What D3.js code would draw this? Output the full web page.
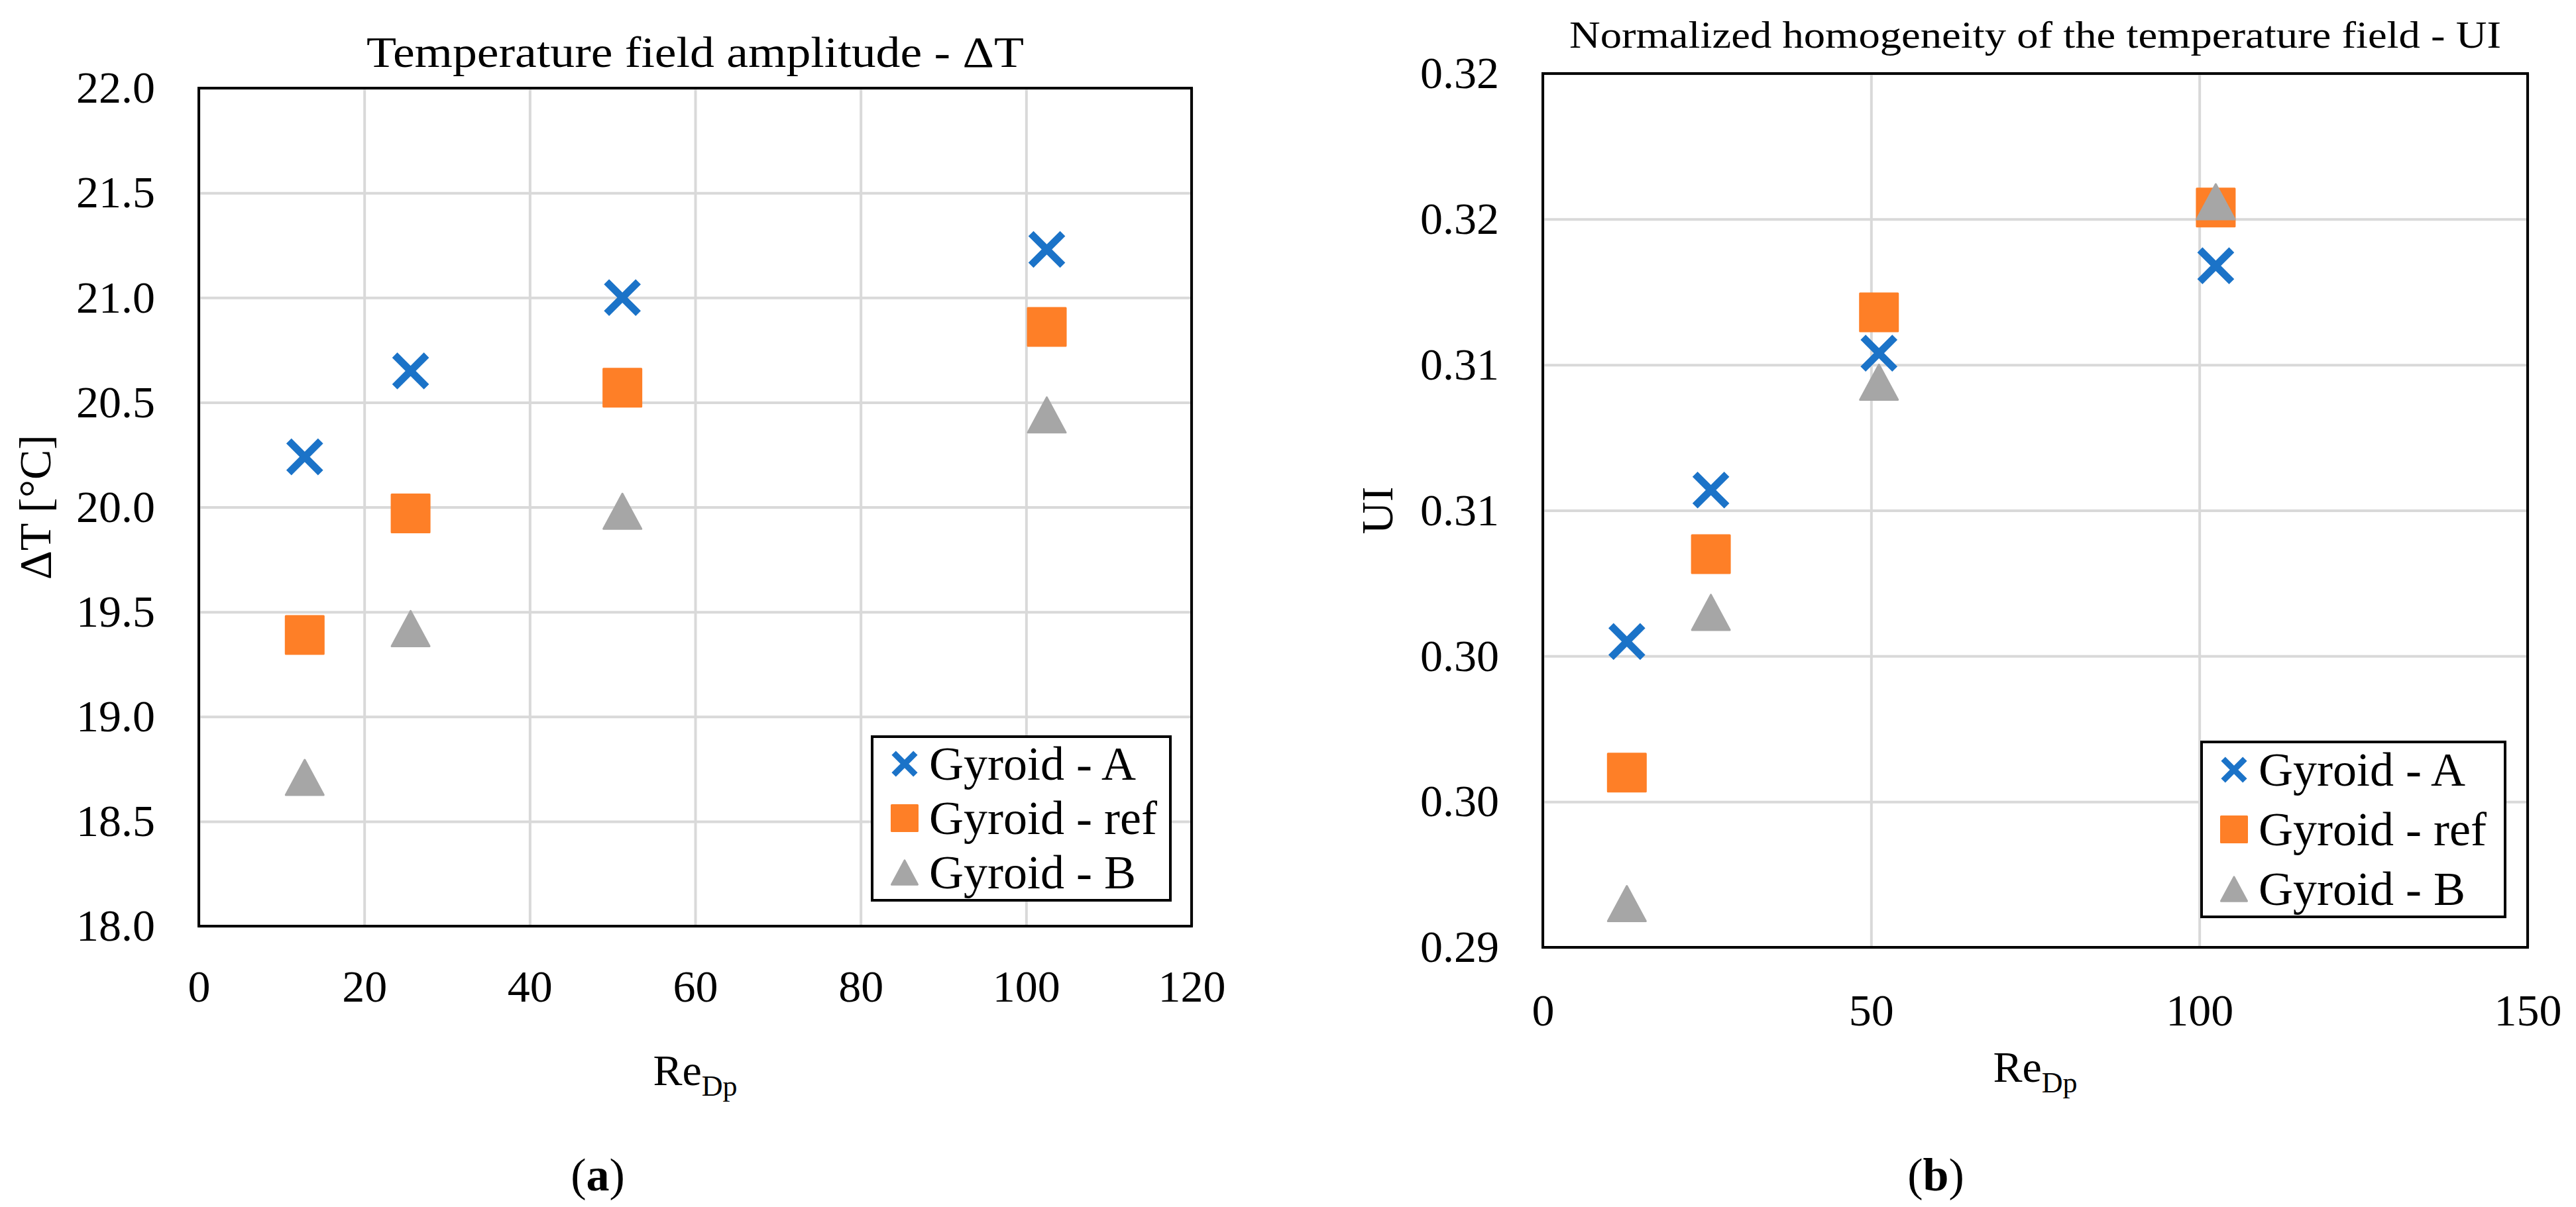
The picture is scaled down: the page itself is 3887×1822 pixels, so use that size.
<!DOCTYPE html>
<html>
<head>
<meta charset="utf-8">
<script src="https://cdn.jsdelivr.net/npm/d3@7"></script>
<style>
  html, body { margin: 0; padding: 0; background: #ffffff; }
  svg { display: block; }
</style>
</head>
<body>
<svg id="chart" width="3887" height="1822"></svg>
<script>
// ---------------- DATA ----------------
const reDp = [12.8, 25.6, 51.2, 102.5];

const seriesNames = ["Gyroid - A", "Gyroid - ref", "Gyroid - B"];

// panel (a): temperature field amplitude ΔT [°C]
const dT_A   = [20.24, 20.65, 21.00, 21.23];
const dT_ref = [19.39, 19.97, 20.57, 20.86];
const dT_B   = [18.71, 19.42, 19.98, 20.44];

// panel (b): normalized homogeneity UI
const UI_A   = [0.3005, 0.3057, 0.3104, 0.3134];
const UI_ref = [0.2960, 0.3035, 0.3118, 0.3154];
const UI_B   = [0.2915, 0.3015, 0.3094, 0.3156];

// ticks
const xTicksA = [0, 20, 40, 60, 80, 100, 120];
const yTicksA = [18.0, 18.5, 19.0, 19.5, 20.0, 20.5, 21.0, 21.5, 22.0];
const yTickLabelsA = ["18.0", "18.5", "19.0", "19.5", "20.0", "20.5", "21.0", "21.5", "22.0"];

const xTicksB = [0, 50, 100, 150];
const yTicksB = [0.29, 0.295, 0.30, 0.305, 0.31, 0.315, 0.32];
const yTickLabelsB = ["0.29", "0.30", "0.30", "0.31", "0.31", "0.32", "0.32"];

// ---------------- STYLE ----------------
const FONT = '"Liberation Serif", "DejaVu Serif", serif';
const colors = { "Gyroid - A": "#1b73c8", "Gyroid - ref": "#fe7f27", "Gyroid - B": "#a6a6a6" };
const markerTypes = { "Gyroid - A": "x", "Gyroid - ref": "square", "Gyroid - B": "triangle" };

const svg = d3.select("#chart");
svg.append("rect").attr("width", 3887).attr("height", 1822).attr("fill", "#fff");

function markerPath(type, s) {
  const h = s / 2;
  if (type === "square") {
    return `M${-h},${-h}H${h}V${h}H${-h}Z`;
  } else if (type === "triangle") {
    const th = h * 0.93;
    return `M0,${-th}L${h},${th}L${-h},${th}Z`;
  } else {
    const k = h * 0.84;
    return `M${-k},${-k}L${k},${k}M${-k},${k}L${k},${-k}`;
  }
}

function drawMarker(g, type, color, size, xStroke) {
  const p = g.append("path").attr("d", markerPath(type, size));
  if (type === "x") {
    p.attr("fill", "none").attr("stroke", color).attr("stroke-width", xStroke).attr("stroke-linecap", "butt");
  } else {
    p.attr("fill", color).attr("stroke", color).attr("stroke-width", 3).attr("stroke-linejoin", "round");
  }
}

function txt(sel, size) {
  return sel.style("font-family", FONT).style("font-size", size + "px").style("fill", "#000");
}

function panel(cfg) {
  const { left, right, top, bottom } = cfg;
  const x = d3.scaleLinear().domain(cfg.xDomain).range([left, right]);
  const y = d3.scaleLinear().domain(cfg.yDomain).range([bottom, top]);
  const g = svg.append("g");

  // gridlines
  g.append("g").attr("transform", `translate(0,${bottom})`)
    .call(d3.axisBottom(x).tickValues(cfg.xTicks).tickSize(-(bottom - top)).tickFormat(""))
    .call(a => a.select(".domain").remove())
    .call(a => a.selectAll("line").attr("stroke", "#d9d9d9").attr("stroke-width", 4));
  g.append("g").attr("transform", `translate(${left},0)`)
    .call(d3.axisLeft(y).tickValues(cfg.yTicks).tickSize(-(right - left)).tickFormat(""))
    .call(a => a.select(".domain").remove())
    .call(a => a.selectAll("line").attr("stroke", "#d9d9d9").attr("stroke-width", 4));

  // tick labels
  g.append("g").attr("transform", `translate(0,${bottom})`)
    .call(d3.axisBottom(x).tickValues(cfg.xTicks).tickSize(0).tickPadding(cfg.xPad).tickFormat(d3.format("d")))
    .call(a => a.select(".domain").remove())
    .call(a => txt(a.selectAll("text"), 68));
  g.append("g").attr("transform", `translate(${left},0)`)
    .call(d3.axisLeft(y).tickValues(cfg.yTicks).tickSize(0).tickPadding(cfg.yPad)
      .tickFormat((d, i) => cfg.yLabels[i]))
    .call(a => a.select(".domain").remove())
    .call(a => txt(a.selectAll("text"), 68));

  // plot frame
  g.append("rect").attr("x", left).attr("y", top).attr("width", right - left).attr("height", bottom - top)
    .attr("fill", "none").attr("stroke", "#000").attr("stroke-width", 4);

  // points
  cfg.series.forEach(s => {
    s.values.forEach((v, i) => {
      const m = g.append("g").attr("transform", `translate(${x(reDp[i])},${y(v)})`);
      drawMarker(m, markerTypes[s.name], colors[s.name], 57, 11);
    });
  });

  // title
  txt(g.append("text"), cfg.titleSize).attr("x", (left + right) / 2).attr("y", cfg.titleY)
    .attr("text-anchor", "middle")
    .attr("textLength", cfg.titleW).attr("lengthAdjust", "spacingAndGlyphs")
    .text(cfg.title);

  // y-axis label
  txt(g.append("text"), 68).attr("transform", `translate(${cfg.yLabelX},${(top + bottom) / 2}) rotate(-90)`)
    .attr("text-anchor", "middle").attr("dy", "0.35em").text(cfg.yLabel);

  // x-axis label Re_Dp
  const xl = txt(g.append("text"), 66).attr("x", (left + right) / 2).attr("y", cfg.xLabelY)
    .attr("text-anchor", "middle");
  xl.append("tspan").text("Re");
  xl.append("tspan").style("font-size", "44px").attr("dy", 16).text("Dp");

  // panel letter
  const pl = txt(g.append("text"), 70).attr("x", cfg.letterX).attr("y", 1797).attr("text-anchor", "middle");
  pl.append("tspan").text("(");
  pl.append("tspan").style("font-weight", "bold").text(cfg.letter);
  pl.append("tspan").text(")");

  // legend
  const L = cfg.legend;
  g.append("rect").attr("x", L.x).attr("y", L.y).attr("width", L.w).attr("height", L.h)
    .attr("fill", "#fff").attr("stroke", "#000").attr("stroke-width", 4);
  cfg.series.forEach((s, i) => {
    const cy = L.y + L.first + i * L.step;
    const m = g.append("g").attr("transform", `translate(${L.x + 49},${cy})`);
    drawMarker(m, markerTypes[s.name], colors[s.name], 39, 9);
    txt(g.append("text"), 72).attr("x", L.x + 86).attr("y", cy).attr("dy", "0.33em").text(s.name);
  });
}

panel({
  left: 300, right: 1798, top: 133, bottom: 1398,
  xDomain: [0, 120], yDomain: [18, 22],
  xTicks: xTicksA, yTicks: yTicksA, yLabels: yTickLabelsA,
  xPad: 66, yPad: 66,
  title: "Temperature field amplitude - \u0394T", titleY: 101, titleSize: 66, titleW: 992,
  yLabel: "\u0394T [\u00B0C]", yLabelX: 52,
  xLabelY: 1638, letter: "a", letterX: 902,
  series: [
    { name: seriesNames[0], values: dT_A },
    { name: seriesNames[1], values: dT_ref },
    { name: seriesNames[2], values: dT_B }
  ],
  legend: { x: 1316, y: 1112, w: 450, h: 247, first: 41, step: 82 }
});

panel({
  left: 2328, right: 3814, top: 111, bottom: 1430,
  xDomain: [0, 150], yDomain: [0.29, 0.32],
  xTicks: xTicksB, yTicks: yTicksB, yLabels: yTickLabelsB,
  xPad: 70, yPad: 66,
  title: "Normalized homogeneity of the temperature field - UI", titleY: 72, titleSize: 58, titleW: 1406,
  yLabel: "UI", yLabelX: 2077,
  xLabelY: 1633, letter: "b", letterX: 2921,
  series: [
    { name: seriesNames[0], values: UI_A },
    { name: seriesNames[1], values: UI_ref },
    { name: seriesNames[2], values: UI_B }
  ],
  legend: { x: 3322, y: 1120, w: 458, h: 264, first: 42, step: 90 }
});
</script>
</body>
</html>
